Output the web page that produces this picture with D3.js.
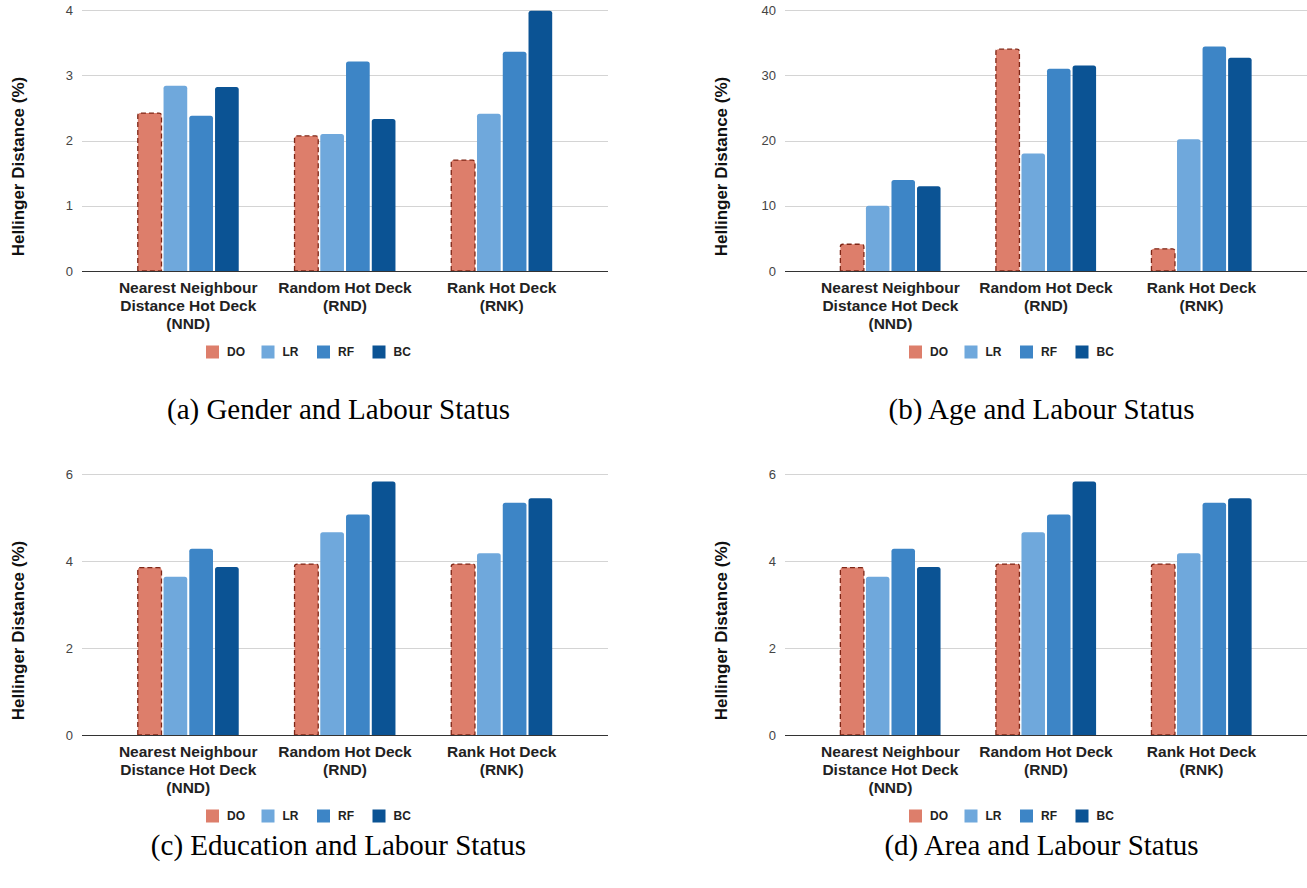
<!DOCTYPE html>
<html>
<head>
<meta charset="utf-8">
<script src="https://cdn.jsdelivr.net/npm/d3@7"></script>
<style>
  html, body { margin: 0; padding: 0; background: #fff; }
  svg { display: block; }
</style>
</head>
<body>
<svg id="chart" width="1307" height="888"></svg>
<script>
// Imputation methods (x categories), each label split over lines
const methods = ["NND", "RND", "RNK"];
const methodLabels = [
  ["Nearest Neighbour", "Distance Hot Deck", "(NND)"],
  ["Random Hot Deck", "(RND)"],
  ["Rank Hot Deck", "(RNK)"]
];
const series = ["DO", "LR", "RF", "BC"];
const seriesColors = ["#dd7e6b", "#6fa8dc", "#3d85c6", "#0b5394"];

// Hellinger distance (%) per method (rows) and series DO, LR, RF, BC (columns)
const genderLabour = [
  [2.42, 2.84, 2.38, 2.82],
  [2.07, 2.10, 3.21, 2.33],
  [1.70, 2.41, 3.36, 3.99]
];
const ageLabour = [
  [4.1, 10.0, 13.95, 13.0],
  [34.0, 18.0, 31.0, 31.5],
  [3.4, 20.2, 34.4, 32.7]
];
const educationLabour = [
  [3.85, 3.64, 4.28, 3.86],
  [3.93, 4.66, 5.07, 5.83],
  [3.93, 4.18, 5.34, 5.44]
];
const areaLabour = [
  [3.85, 3.64, 4.28, 3.86],
  [3.93, 4.66, 5.07, 5.83],
  [3.93, 4.18, 5.34, 5.44]
];

const genderTicks = [0, 1, 2, 3, 4];
const ageTicks = [0, 10, 20, 30, 40];
const educationTicks = [0, 2, 4, 6];
const areaTicks = [0, 2, 4, 6];

const captions = [
  "(a) Gender and Labour Status",
  "(b) Age and Labour Status",
  "(c) Education and Labour Status",
  "(d) Area and Labour Status"
];

const panels = [
  { data: genderLabour, ticks: genderTicks, caption: captions[0], left: 82, right: 608, top: 10, bottom: 271, captionY: 409 },
  { data: ageLabour, ticks: ageTicks, caption: captions[1], left: 785, right: 1307, top: 10, bottom: 271, captionY: 409 },
  { data: educationLabour, ticks: educationTicks, caption: captions[2], left: 82, right: 608, top: 474, bottom: 735, captionY: 845 },
  { data: areaLabour, ticks: areaTicks, caption: captions[3], left: 785, right: 1307, top: 474, bottom: 735, captionY: 845 }
];

const svg = d3.select("#chart");
const sans = "'Liberation Sans', Arial, sans-serif";
const serif = "'Liberation Serif', 'Times New Roman', serif";

// bar with slightly rounded top corners
function barPath(x, y, w, h, r) {
  r = Math.min(r, w / 2, h);
  return `M${x},${y + h}V${y + r}Q${x},${y} ${x + r},${y}H${x + w - r}Q${x + w},${y} ${x + w},${y + r}V${y + h}Z`;
}

panels.forEach(p => {
  const g = svg.append("g");
  const yMax = p.ticks[p.ticks.length - 1];
  const y = d3.scaleLinear().domain([0, yMax]).range([p.bottom, p.top]);
  const x0 = d3.scaleBand().domain(methods).range([p.left, p.right]).paddingInner(0.356).paddingOuter(0.356);
  const x1 = d3.scaleBand().domain(series).range([0, x0.bandwidth()]).paddingInner(0.08);

  // gridlines + tick labels
  const yAxis = d3.axisLeft(y).tickValues(p.ticks).tickSize(-(p.right - p.left)).tickPadding(9).tickFormat(d3.format("d"));
  const ax = g.append("g").attr("transform", `translate(${p.left},0)`).call(yAxis);
  ax.select(".domain").remove();
  ax.selectAll(".tick line").attr("stroke", "#d4d4d4").attr("stroke-width", 1).attr("shape-rendering", "crispEdges");
  ax.selectAll(".tick text").attr("fill", "#444").style("font-family", sans).style("font-size", "13px");

  // y-axis title
  g.append("text")
    .attr("transform", `translate(${p.left - 64},${(p.top + p.bottom) / 2 + 26}) rotate(-90)`)
    .attr("text-anchor", "middle").attr("dominant-baseline", "central")
    .style("font-family", sans).style("font-size", "17px").style("font-weight", "bold")
    .attr("fill", "#111").text("Hellinger Distance (%)");

  // bars
  p.data.forEach((row, i) => {
    const gx = x0(methods[i]);
    row.forEach((v, j) => {
      const bx = gx + x1(series[j]);
      const by = y(v);
      const bw = x1.bandwidth();
      const bh = p.bottom - by;
      const path = g.append("path")
        .attr("d", barPath(bx, by, bw, bh, 2.5))
        .attr("fill", seriesColors[j]);
      if (series[j] === "DO") {
        path.attr("stroke", "#7f2616").attr("stroke-width", 1.3).attr("stroke-dasharray", "5,3");
      }
    });
  });

  // baseline
  g.append("line")
    .attr("x1", p.left).attr("x2", p.right)
    .attr("y1", p.bottom + 0.5).attr("y2", p.bottom + 0.5)
    .attr("stroke", "#333").attr("stroke-width", 1);

  // category labels
  methods.forEach((m, i) => {
    const cx = x0(m) + x0.bandwidth() / 2;
    const t = g.append("text").attr("text-anchor", "middle")
      .style("font-family", sans).style("font-size", "15.5px").style("font-weight", "bold").attr("fill", "#222");
    methodLabels[i].forEach((line, k) => {
      t.append("tspan").attr("x", cx).attr("y", p.bottom + 21.5 + k * 18).text(line);
    });
  });

  // legend
  const lg = g.append("g").attr("transform", `translate(${p.left + 124},${p.bottom + 81})`);
  series.forEach((s, j) => {
    const it = lg.append("g").attr("transform", `translate(${j * 55.5},0)`);
    it.append("rect").attr("x", 0).attr("y", -6.5).attr("width", 13).attr("height", 13).attr("fill", seriesColors[j]);
    it.append("text").attr("x", 21).attr("y", 0).attr("dominant-baseline", "central")
      .style("font-family", sans).style("font-size", "12px").style("font-weight", "bold")
      .attr("fill", "#222").text(s);
  });

  // caption
  g.append("text")
    .attr("x", p.left + 256.5).attr("y", p.captionY)
    .attr("text-anchor", "middle").attr("dominant-baseline", "central")
    .style("font-family", serif).style("font-size", "29px").attr("fill", "#000")
    .text(p.caption);
});
</script>
</body>
</html>
